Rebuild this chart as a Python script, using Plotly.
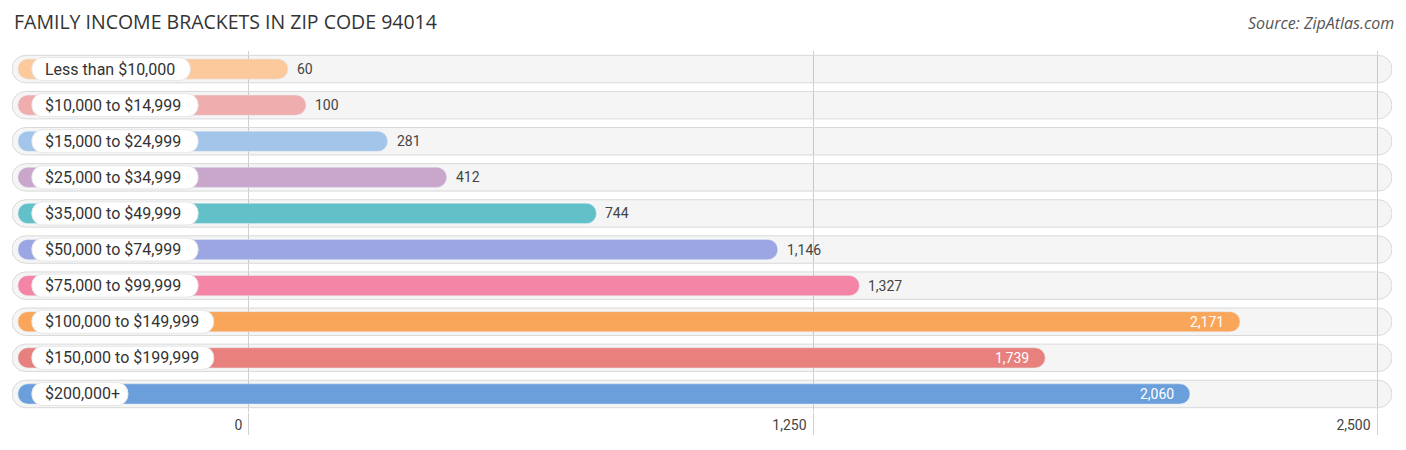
import plotly.graph_objects as go

# data
brackets = [
    "Less than $10,000",
    "$10,000 to $14,999",
    "$15,000 to $24,999",
    "$25,000 to $34,999",
    "$35,000 to $49,999",
    "$50,000 to $74,999",
    "$75,000 to $99,999",
    "$100,000 to $149,999",
    "$150,000 to $199,999",
    "$200,000+",
]
families = [60, 100, 281, 412, 744, 1146, 1327, 2171, 1739, 2060]
bar_colors = [
    "#fbc99c", "#f0adad", "#a3c5ea", "#c9a7cc", "#61c0c8",
    "#9ba6e3", "#f485a7", "#f9a65a", "#e8817e", "#6a9fdb",
]
tick_vals = [0, 1250, 2500]
tick_text = ["0", "1,250", "2,500"]

# axis geometry (px per unit is shared by both x axes)
X_RANGE = [-525, 2533]      # grid / ticks axis
X2_RANGE = [-552, 2508]     # bar axis (bars start a little right of the 0 grid line)
PX = 1380 / (X_RANGE[1] - X_RANGE[0])
BAR_BASE = -539
PILL_BASE = -508
INSIDE_MIN = 1500           # values above this get their label inside the bar

fig = go.Figure()

# light rounded track behind every row
fig.add_trace(go.Bar(
    y=brackets,
    x=[X_RANGE[1] - X_RANGE[0]] * len(brackets),
    base=X_RANGE[0],
    orientation="h",
    width=0.76,
    marker=dict(color="rgba(0,0,0,0.04)", line=dict(color="#d9d9d9", width=1),
                cornerradius=14),
    hoverinfo="skip",
    xaxis="x",
))

# value bars
fig.add_trace(go.Bar(
    y=brackets,
    x=[v - BAR_BASE for v in families],
    base=BAR_BASE,
    orientation="h",
    width=0.56,
    marker=dict(color=bar_colors, cornerradius=10),
    customdata=families,
    hovertemplate="%{y}: %{customdata:,}<extra></extra>",
    xaxis="x2",
))

# white label pills, length follows the label text
pill_len = [(len(b) * 7.8 + 26) / PX for b in brackets]
fig.add_trace(go.Bar(
    y=brackets,
    x=pill_len,
    base=PILL_BASE,
    orientation="h",
    width=0.64,
    marker=dict(color="white", line=dict(color="#e6e6e6", width=1), cornerradius=11),
    hoverinfo="skip",
    xaxis="x2",
))

for b, v in zip(brackets, families):
    fig.add_annotation(
        x=PILL_BASE, y=b, xref="x2", yref="y",
        text=b, showarrow=False, xanchor="left", xshift=11,
        font=dict(family="Roboto", size=16, color="#333"),
    )
    inside = v > INSIDE_MIN
    fig.add_annotation(
        x=v, y=b, xref="x2", yref="y",
        text=f"{v:,}", showarrow=False,
        xanchor="right" if inside else "left",
        xshift=-14 if inside else 7,
        font=dict(family="Roboto", size=14, color="white" if inside else "#444"),
    )

fig.add_annotation(
    x=0, y=1, xref="paper", yref="paper", xanchor="left", yanchor="bottom",
    xshift=0, yshift=14,
    text="FAMILY INCOME BRACKETS IN ZIP CODE 94014", showarrow=False,
    font=dict(family="Open Sans", size=19.5, color="#333"),
)
fig.add_annotation(
    x=1, y=1, xref="paper", yref="paper", xanchor="right", yanchor="bottom",
    xshift=4, yshift=15,
    text="<i>Source: ZipAtlas.com</i>", showarrow=False,
    font=dict(family="Open Sans", size=16, color="#555"),
)

# the page body has an 8px margin, so the figure is 8px smaller and margins shifted
fig.update_layout(
    width=1398, height=442,
    margin=dict(l=4, r=14, t=43, b=38),
    barmode="overlay",
    showlegend=False,
    plot_bgcolor="white",
    paper_bgcolor="white",
    xaxis=dict(
        range=X_RANGE, tickvals=tick_vals, ticktext=tick_text,
        showgrid=True, gridcolor="#d0d0d0", gridwidth=1, zeroline=False,
        ticks="outside", ticklen=22, tickcolor="#d0d0d0",
        ticklabelposition="outside left", ticklabelshift=-6,
        tickfont=dict(family="Roboto", size=14, color="#444"),
        fixedrange=True,
    ),
    xaxis2=dict(range=X2_RANGE, overlaying="x", visible=False, fixedrange=True),
    yaxis=dict(autorange="reversed", visible=False, fixedrange=True),
)

fig.write_html("out.html")
